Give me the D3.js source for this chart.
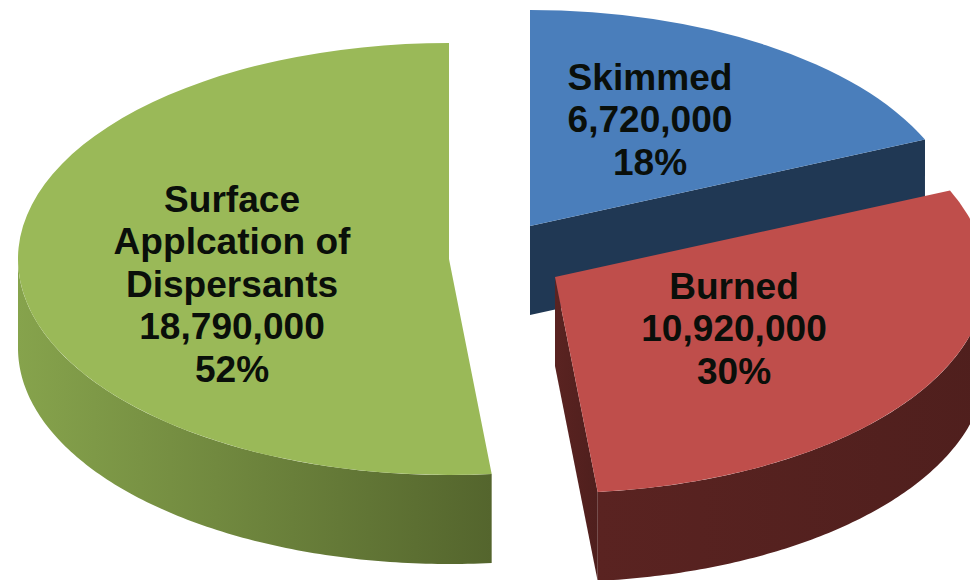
<!DOCTYPE html>
<html>
<head>
<meta charset="utf-8">
<script src="https://cdn.jsdelivr.net/npm/d3@7"></script>
<style>
  html, body { margin: 0; padding: 0; background: #fff; }
  svg { display: block; }
  .label { font-family: "Liberation Sans", Arial, sans-serif; font-weight: bold; font-size: 36px; fill: #0a0f0a; }
</style>
</head>
<body>
<div id="chart"></div>
<script>
// spill response volumes
var categories = ["Skimmed", "Burned", "Surface Application of Dispersants"];
var volumes = [6720000, 10920000, 18790000];
var percents = ["18%", "30%", "52%"];
var nameLines = [["Skimmed"], ["Burned"], ["Surface", "Applcation of", "Dispersants"]];

var topColors = ["#4a7ebb", "#bf4e4b", "#9ab958"];
var wallStops = [
  ["#203854", "#203854"],
  ["#5a2321", "#4f1f1d"],
  ["#86a34c", "#54652d"]
];
// each slice is pulled away from the middle by hand
var apexes = [[530, 226], [555, 277], [449, 259]];
var labelSpots = [[650, 89.5], [734, 298.5], [232, 211.5]];

var width = 970, height = 580;
var rx = 431, ry = 216, depth = 89, lineStep = 42.5;

var svg = d3.select("#chart").append("svg")
    .attr("width", width)
    .attr("height", height);

var defs = svg.append("defs");
wallStops.forEach(function (stops, i) {
  var grad = defs.append("linearGradient").attr("id", "wall" + i);
  grad.append("stop").attr("offset", "0%").attr("stop-color", stops[0]);
  grad.append("stop").attr("offset", "100%").attr("stop-color", stops[1]);
});

var pie = d3.pie().sort(null).startAngle(0).endAngle(2 * Math.PI);
var slices = pie(volumes);

// top face is a flat arc squashed into an ellipse
var arc = d3.arc().innerRadius(0).outerRadius(rx);

function px(a) { return rx * Math.sin(a); }
function py(a) { return -ry * Math.cos(a); }

var wall = d3.area()
    .x(function (d) { return d.x; })
    .y0(function (d) { return d.y; })
    .y1(function (d) { return d.y + depth; });

// blue first, red has to sit on top of its wall
[0, 2, 1].forEach(function (i) {
  var s = slices[i];
  var g = svg.append("g")
      .attr("transform", "translate(" + apexes[i][0] + "," + apexes[i][1] + ")");

  // outer rim, only the part facing the viewer
  var a0 = Math.max(s.startAngle, Math.PI / 2);
  var a1 = Math.min(s.endAngle, 3 * Math.PI / 2);
  if (a1 > a0) {
    var rim = d3.range(0, 121).map(function (k) {
      var a = a0 + (a1 - a0) * k / 120;
      return { x: px(a), y: py(a) };
    });
    g.append("path").attr("d", wall(rim)).attr("fill", "url(#wall" + i + ")");
  }

  // cut faces that turn towards the viewer
  if (i === 0) {
    g.append("path")
      .attr("d", wall([{ x: 0, y: 0 }, { x: px(s.endAngle), y: py(s.endAngle) }]))
      .attr("fill", wallStops[0][0]);
  }
  if (i === 1) {
    g.append("path")
      .attr("d", wall([{ x: 0, y: 0 }, { x: px(s.endAngle), y: py(s.endAngle) }]))
      .attr("fill", "url(#wall1)");
  }

  g.append("path")
    .attr("d", arc(s))
    .attr("transform", "scale(1," + (ry / rx) + ")")
    .attr("fill", topColors[i]);
});

var format = d3.format(",");
categories.forEach(function (name, i) {
  var lines = nameLines[i].concat([format(volumes[i]), percents[i]]);
  lines.forEach(function (line, j) {
    svg.append("text")
      .attr("class", "label")
      .attr("text-anchor", "middle")
      .attr("transform", "translate(" + labelSpots[i][0] + "," + (labelSpots[i][1] + j * lineStep) + ") scale(1.03,1)")
      .text(line);
  });
});
</script>
</body>
</html>
